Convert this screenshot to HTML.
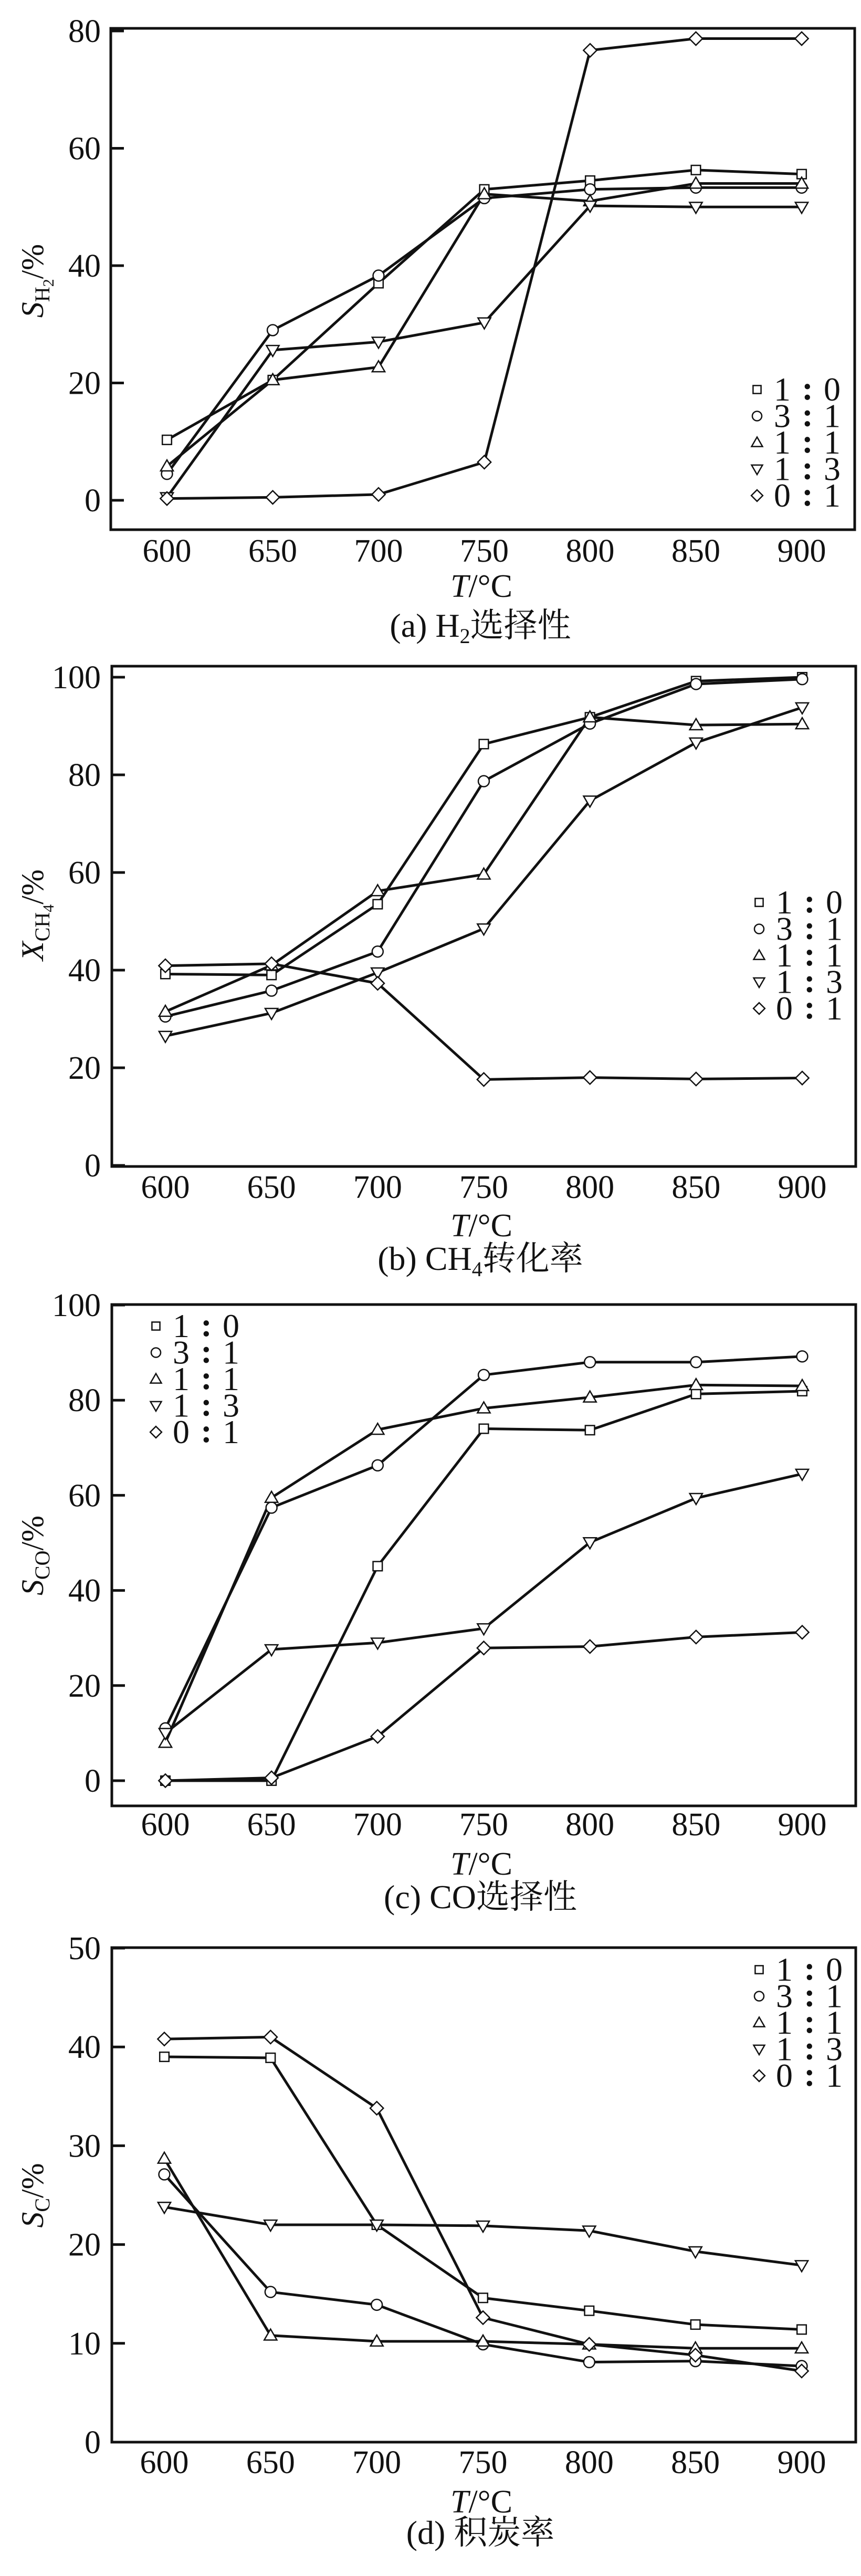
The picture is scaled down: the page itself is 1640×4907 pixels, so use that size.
<!DOCTYPE html>
<html><head><meta charset="utf-8">
<style>
html,body{margin:0;padding:0;background:#fff;}
svg{display:block;}
text{font-family:"Liberation Serif","Noto Serif CJK SC",serif;fill:#111;}
</style></head>
<body>
<svg id="fig" width="1640" height="4907" viewBox="0 0 1640 4907" xmlns="http://www.w3.org/2000/svg"></svg>
<script>
// ---- data ----
const temps = [600, 650, 700, 750, 800, 850, 900];
const seriesNames = ["1 : 0", "3 : 1", "1 : 1", "1 : 3", "0 : 1"];
const xTickLabels = ["600","650","700","750","800","850","900"];

const h2_10 = [10.3, 20.5, 37, 53, 54.5, 56.3, 55.6];
const h2_31 = [4.5, 29, 38.3, 51.5, 53, 53.3, 53.3];
const h2_11 = [5.8, 20.5, 22.7, 52.2, 51, 54, 54];
const h2_13 = [0.5, 25.6, 27, 30.3, 50.2, 50, 50];
const h2_01 = [0.3, 0.5, 1, 6.5, 76.7, 78.7, 78.7];
const h2Ticks = [0, 20, 40, 60, 80];

const ch4_10 = [39.2, 39, 53.5, 86.3, 91.8, 99.2, 100];
const ch4_31 = [30.5, 35.8, 43.8, 78.7, 90.5, 98.6, 99.6];
const ch4_11 = [31.5, 41, 56.2, 59.6, 91.8, 90.2, 90.4];
const ch4_13 = [26.5, 31.2, 39.5, 48.5, 74.7, 86.6, 93.8];
const ch4_01 = [40.9, 41.3, 37.3, 17.6, 18, 17.7, 17.9];
const ch4Ticks = [0, 20, 40, 60, 80, 100];

const co_10 = [0, 0, 45.1, 74, 73.7, 81.3, 81.9];
const co_31 = [11, 57.4, 66.3, 85.3, 88, 88, 89.2];
const co_11 = [8, 59.5, 73.8, 78.3, 80.6, 83.2, 83];
const co_13 = [10, 27.6, 29, 32, 50.1, 59.4, 64.5];
const co_01 = [0, 0.6, 9.3, 27.9, 28.2, 30.2, 31.2];
const coTicks = [0, 20, 40, 60, 80, 100];

const c_10 = [39, 38.9, 22, 14.6, 13.3, 11.9, 11.4];
const c_31 = [27.1, 15.2, 13.9, 9.9, 8.1, 8.2, 7.7];
const c_11 = [28.7, 10.8, 10.2, 10.2, 9.9, 9.5, 9.5];
const c_13 = [23.8, 22, 22, 21.9, 21.4, 19.3, 17.9];
const c_01 = [40.8, 41, 33.8, 12.6, 9.9, 8.8, 7.2];
const cTicks = [0, 10, 20, 30, 40, 50];

// ---- layout ----
const NS = "http://www.w3.org/2000/svg";
const svg = document.getElementById("fig");
const markerTypes = ["square","circle","up","down","diamond"];
const panels = [
  {id:"a", series:[h2_10,h2_31,h2_11,h2_13,h2_01], ticks:h2Ticks, ymax:80,
   box:[211,54,1628,1009], y0:953, yTop:59, x0:318, x1:1527,
   tickBase:1070, xlabBase:1137, capBase:1213, ylabY:535,
   ylab:["S","H","2"], cap:["(a) H","2","选择性"], leg:{mx:1442, y:742}},
  {id:"b", series:[ch4_10,ch4_31,ch4_11,ch4_13,ch4_01], ticks:ch4Ticks, ymax:100,
   box:[213,1269,1630,2222], y0:2220, yTop:1290, x0:315, x1:1528,
   tickBase:2282, xlabBase:2355, capBase:2419, ylabY:1743,
   ylab:["X","CH","4"], cap:["(b) CH","4","转化率"], leg:{mx:1446, y:1719}},
  {id:"c", series:[co_10,co_31,co_11,co_13,co_01], ticks:coTicks, ymax:100,
   box:[213,2485,1630,3440], y0:3392, yTop:2486, x0:315, x1:1528,
   tickBase:3496, xlabBase:3571, capBase:3635, ylabY:2963,
   ylab:["S","CO",""], cap:["(c) CO","","选择性"], leg:{mx:297, y:2526}},
  {id:"d", series:[c_10,c_31,c_11,c_13,c_01], ticks:cTicks, ymax:50,
   box:[213,3710,1630,4652], y0:4652, yTop:3711, x0:313, x1:1527,
   tickBase:4711, xlabBase:4786, capBase:4846, ylabY:4182,
   ylab:["S","C",""], cap:["(d) 积炭率","",""], leg:{mx:1446, y:3752}}
];

function el(tag, attrs, parent){
  const e = document.createElementNS(NS, tag);
  for (const k in attrs) e.setAttribute(k, attrs[k]);
  (parent||svg).appendChild(e);
  return e;
}
function marker(type, x, y, s, parent){
  let e;
  if (type==="square") e = el("rect",{x:x-s*0.8,y:y-s*0.8,width:s*1.6,height:s*1.6},parent);
  else if (type==="circle") e = el("circle",{cx:x,cy:y,r:s*0.95},parent);
  else if (type==="up") e = el("polygon",{points:`${x},${y-s*1.1} ${x+s*1.1},${y+s*0.8} ${x-s*1.1},${y+s*0.8}`},parent);
  else if (type==="down") e = el("polygon",{points:`${x},${y+s*1.1} ${x+s*1.1},${y-s*0.8} ${x-s*1.1},${y-s*0.8}`},parent);
  else e = el("polygon",{points:`${x},${y-s*1.15} ${x+s*1.15},${y} ${x},${y+s*1.15} ${x-s*1.15},${y}`},parent);
  e.setAttribute("fill","#fff");
  e.setAttribute("stroke","#111");
  e.setAttribute("stroke-width","2.5");
  return e;
}

panels.forEach(p=>{
  const g = el("g",{});
  
  
  const xs = t => p.x0 + (t-600)/(900-600)*(p.x1-p.x0);
  const ys = v => p.y0 - v/p.ymax*(p.y0-p.yTop);
  const [L,T,R,B] = p.box;
  const frame = el("rect",{x:L,y:T,width:R-L,height:B-T,fill:"none",stroke:"#111","stroke-width":5},g);
  
  
  // y ticks
  p.ticks.forEach(v=>{
    const y = ys(v);
    const tk = el("line",{x1:L,x2:L+25,y1:y,y2:y,stroke:"#111","stroke-width":5},g);
    
    
    const tl = el("text",{x:192,y:y+21,"font-size":62,"text-anchor":"end"},g);
    tl.textContent = String(v);
    
    
  });
  // x tick labels
  temps.forEach((t,i)=>{
    const tl = el("text",{x:xs(t),y:p.tickBase,"font-size":62,"text-anchor":"middle"},g);
    tl.textContent = xTickLabels[i];
    
    
  });
  // x label
  const xl = el("text",{x:917,y:p.xlabBase,"font-size":62,"text-anchor":"middle"},g);
  xl.innerHTML = '<tspan font-style="italic">T</tspan>/°C';
  
  
  // caption
  const cp = el("text",{x:915,y:p.capBase,"font-size":64,"text-anchor":"middle"},g);
  cp.innerHTML = p.cap[0] + (p.cap[1] ? '<tspan font-size="40" dy="12">'+p.cap[1]+'</tspan><tspan dy="-12">'+p.cap[2]+'</tspan>' : p.cap[2]);
  
  
  // y label
  const yl = el("text",{x:0,y:0,"font-size":60,"text-anchor":"middle",transform:`translate(82,${p.ylabY}) rotate(-90)`},g);
  yl.innerHTML = '<tspan font-style="italic">'+p.ylab[0]+'</tspan><tspan font-size="40" dy="12">'+p.ylab[1]+'</tspan>' +
    (p.ylab[2] ? '<tspan font-size="30" dy="8">'+p.ylab[2]+'</tspan><tspan dy="-20">/%</tspan>' : '<tspan dy="-12">/%</tspan>');
  
  
  // series lines
  p.series.forEach((vals,si)=>{
    const pts = vals.map((v,i)=>xs(temps[i])+","+ys(v)).join(" ");
    const ln = el("polyline",{points:pts,fill:"none",stroke:"#111","stroke-width":5,"stroke-linejoin":"round"},g);
    
    
  });
  p.series.forEach((vals,si)=>{
    vals.forEach((v,i)=>{
      const m = marker(markerTypes[si], xs(temps[i]), ys(v), 11, g);
      
      
    });
  });
  // legend
  const lg = el("g",{},g);
  
  
  seriesNames.forEach((nm,si)=>{
    const y = p.leg.y + si*50.5;
    const e = el("g",{},lg);
    
    
    marker(markerTypes[si], p.leg.mx, y, 9.5, e);
    const parts = nm.split(" : ");
    const a = el("text",{x:p.leg.mx+48,y:y+21,"font-size":64,"text-anchor":"middle"},e); a.textContent = parts[0];
    const c = el("text",{x:p.leg.mx+96,y:y+19,"font-size":64,"text-anchor":"middle","font-weight":"bold"},e); c.textContent = ":";
    const b = el("text",{x:p.leg.mx+143,y:y+21,"font-size":64,"text-anchor":"middle"},e); b.textContent = parts[1];
  });
});
</script>
</body></html>
